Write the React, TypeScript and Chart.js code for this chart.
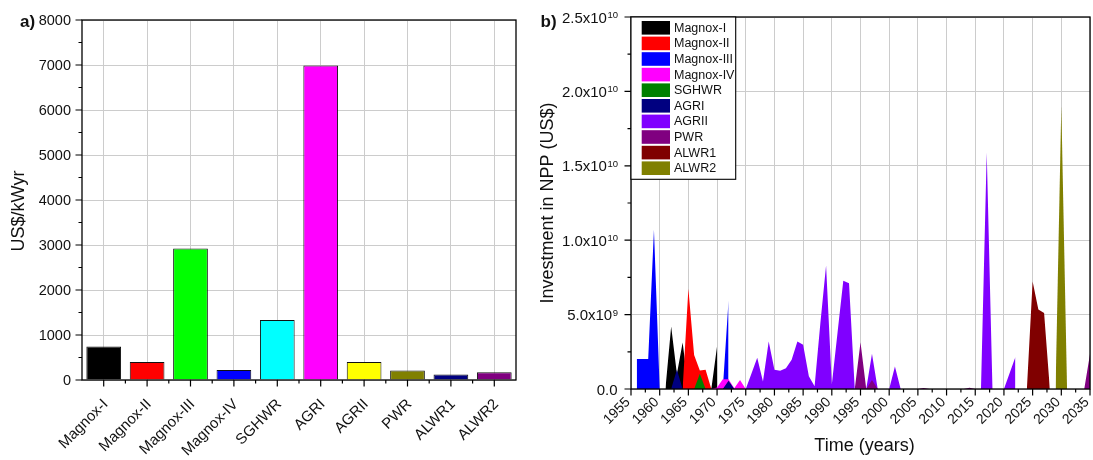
import React, { useEffect, useRef } from 'react';
import { Chart, registerables } from 'chart.js';

Chart.register(...registerables);

const FONT = '"Liberation Sans", Arial, Helvetica, sans-serif';
const GRID = '#cccccc';

// ---------------- Panel a data ----------------
const reactorTypes = ['Magnox-I', 'Magnox-II', 'Magnox-III', 'Magnox-IV', 'SGHWR', 'AGRI', 'AGRII', 'PWR', 'ALWR1', 'ALWR2'];
const unitCost = [745, 400, 2925, 222, 1333, 6990, 400, 213, 123, 175];
const barColors = ['#000000', '#ff0000', '#00ff00', '#0000ff', '#00ffff', '#ff00ff', '#ffff00', '#808000', '#000080', '#800080'];
const costTicks = [0, 1000, 2000, 3000, 4000, 5000, 6000, 7000, 8000];
const costTitle = 'US$/kWyr';

// ---------------- Panel b data (year, billions of US$) ----------------
const magnoxI = [[1961, 0], [1962, 4.2], [1963, 1.0], [1964, 3.12], [1965, 0], [1969, 0], [1970, 2.88]];
const magnoxII = [[1964, 0], [1965, 6.73], [1966, 2.28], [1967, 1.25], [1968, 1.3], [1969, 0]];
const magnoxIII = [[1956, 2.02], [1957, 2.02], [1958, 2.02], [1959, 10.7], [1960, 0], [1971, 0], [1972, 5.95]];
const magnoxIV = [[1969, 0], [1970, 0.1], [1971, 0.65], [1972, 0.65], [1973, 0.05], [1974, 0.6], [1975, 0]];
const sghwr = [[1966, 0], [1967, 1.03], [1968, 0]];
const agrI = [[1962, 0], [1963, 1.3], [1964, 0], [1971, 0], [1972, 0.55], [1973, 0]];
const agrII = [[1975, 0], [1976, 1.05], [1977, 2.1], [1978, 0.5], [1979, 3.2], [1980, 1.3], [1981, 1.23], [1982, 1.4], [1983, 1.97], [1984, 3.2], [1985, 2.98], [1986, 0.85], [1987, 0.18], [1988, 4.4], [1989, 8.3], [1990, 0.3], [1991, 3.8], [1992, 7.27], [1993, 7.1], [1994, 0], [1996, 0], [1997, 2.37], [1998, 0], [2000, 0], [2001, 1.52], [2002, 0], [2016, 0], [2017, 15.9], [2018, 0], [2020, 0], [2021, 1.07], [2022, 2.15]];
const pwr = [[1994, 0], [1995, 3.15], [1996, 0], [1997, 0.6], [1998, 0], [2005, 0], [2006, 0.07], [2007, 0], [2013, 0], [2014, 0.09], [2015, 0], [2034, 0], [2035, 2.35]];
const alwr1 = [[2024, 0], [2025, 7.22], [2026, 5.35], [2027, 5.1], [2028, 0]];
const alwr2 = [[2029, 0], [2030, 19.0], [2031, 0]];

const seriesNames = ['Magnox-I', 'Magnox-II', 'Magnox-III', 'Magnox-IV', 'SGHWR', 'AGRI', 'AGRII', 'PWR', 'ALWR1', 'ALWR2'];
const seriesColors = ['#000000', '#ff0000', '#0000ff', '#ff00ff', '#008000', '#000080', '#8000ff', '#800080', '#800000', '#808000'];
const seriesData = [magnoxI, magnoxII, magnoxIII, magnoxIV, sghwr, agrI, agrII, pwr, alwr1, alwr2];
const yearTicks = [1955, 1960, 1965, 1970, 1975, 1980, 1985, 1990, 1995, 2000, 2005, 2010, 2015, 2020, 2025, 2030, 2035];
const investTicks = [0, 5e9, 1e10, 1.5e10, 2e10, 2.5e10];
const timeTitle = 'Time (years)';
const investTitle = 'Investment in NPP (US$)';

// ---------------- Panel a ----------------
const decoA = {
  id: 'decoA',
  afterDraw(chart: any) {
    const { ctx, chartArea: ca, scales } = chart;
    const xs = scales.x, ys = scales.y;
    ctx.save();
    ctx.strokeStyle = '#000';
    ctx.lineWidth = 1.3;
    ctx.strokeRect(ca.left, ca.top, ca.right - ca.left, ca.bottom - ca.top);
    ctx.lineWidth = 1.2;
    ctx.beginPath();
    for (let k = 0; k < costTicks.length; k++) {
      const py = ys.getPixelForValue(costTicks[k]);
      ctx.moveTo(ca.left - 6.5, py); ctx.lineTo(ca.left, py);
      if (k < costTicks.length - 1) {
        const pm = ys.getPixelForValue((costTicks[k] + costTicks[k + 1]) / 2);
        ctx.moveTo(ca.left - 3.5, pm); ctx.lineTo(ca.left, pm);
      }
    }
    for (let i = 0; i < reactorTypes.length; i++) {
      const px = xs.getPixelForValue(i);
      ctx.moveTo(px, ca.bottom); ctx.lineTo(px, ca.bottom + 6.5);
      if (i < reactorTypes.length - 1) {
        const bx = (px + xs.getPixelForValue(i + 1)) / 2;
        ctx.moveTo(bx, ca.bottom); ctx.lineTo(bx, ca.bottom + 3.5);
      }
    }
    ctx.stroke();

    ctx.fillStyle = '#111';
    ctx.font = `14.5px ${FONT}`;
    ctx.textAlign = 'right';
    ctx.textBaseline = 'middle';
    costTicks.forEach((v) => ctx.fillText(String(v), ca.left - 11, ys.getPixelForValue(v) + 0.5));

    ctx.font = `15px ${FONT}`;
    reactorTypes.forEach((name, i) => {
      const px = xs.getPixelForValue(i);
      ctx.save();
      ctx.translate(px + 2, ca.bottom + 22);
      ctx.rotate(-Math.PI / 4);
      ctx.fillText(name, 0, 0);
      ctx.restore();
    });

    ctx.save();
    ctx.translate(19, 211);
    ctx.rotate(-Math.PI / 2);
    ctx.textAlign = 'center';
    ctx.font = `18px ${FONT}`;
    ctx.fillText(costTitle, 0, 0);
    ctx.restore();

    ctx.font = `bold 17px ${FONT}`;
    ctx.textAlign = 'left';
    ctx.textBaseline = 'alphabetic';
    ctx.fillText('a)', 20, 27);
    ctx.restore();
  },
};

function PanelA() {
  const ref = useRef<HTMLCanvasElement>(null);
  useEffect(() => {
    const chart = new Chart(ref.current as HTMLCanvasElement, {
      type: 'bar',
      data: {
        labels: reactorTypes,
        datasets: [
          {
            data: unitCost,
            backgroundColor: barColors,
            borderColor: '#111',
            borderWidth: 1,
            categoryPercentage: 0.8,
            barPercentage: 1,
          },
        ],
      },
      options: {
        responsive: false,
        animation: false,
        layout: { padding: { left: 0, top: 20, right: 4, bottom: 0 } },
        plugins: { legend: { display: false }, tooltip: { enabled: false } },
        scales: {
          x: {
            grid: { offset: false, color: GRID, drawTicks: false },
            border: { display: false },
            ticks: { display: false },
            afterFit: (s: any) => { s.height = 80; },
          },
          y: {
            min: 0,
            max: 8000,
            ticks: { display: false, stepSize: 1000 },
            grid: { color: GRID, drawTicks: false },
            border: { display: false },
            afterFit: (s: any) => { s.width = 82; },
          },
        },
      } as any,
      plugins: [decoA],
    });
    return () => chart.destroy();
  }, []);
  return <canvas ref={ref} width={520} height={460} style={{ position: 'absolute', left: 0, top: 0, display: 'block' }} />;
}

// ---------------- Panel b ----------------
const decoB = {
  id: 'decoB',
  afterDraw(chart: any) {
    const { ctx, chartArea: ca, scales } = chart;
    const xs = scales.x, ys = scales.y;
    ctx.save();
    ctx.strokeStyle = '#000';
    ctx.lineWidth = 1.3;
    ctx.strokeRect(ca.left, ca.top, ca.right - ca.left, ca.bottom - ca.top);
    ctx.lineWidth = 1.2;
    ctx.beginPath();
    for (let k = 0; k < investTicks.length; k++) {
      const py = ys.getPixelForValue(investTicks[k]);
      ctx.moveTo(ca.left - 6.5, py); ctx.lineTo(ca.left, py);
      if (k < investTicks.length - 1) {
        const pm = ys.getPixelForValue((investTicks[k] + investTicks[k + 1]) / 2);
        ctx.moveTo(ca.left - 3.5, pm); ctx.lineTo(ca.left, pm);
      }
    }
    for (let k = 0; k < yearTicks.length; k++) {
      const px = xs.getPixelForValue(yearTicks[k]);
      ctx.moveTo(px, ca.bottom); ctx.lineTo(px, ca.bottom + 6.5);
      if (k < yearTicks.length - 1) {
        const pm = xs.getPixelForValue((yearTicks[k] + yearTicks[k + 1]) / 2);
        ctx.moveTo(pm, ca.bottom); ctx.lineTo(pm, ca.bottom + 3.5);
      }
    }
    ctx.stroke();

    // y tick labels with superscript exponents
    ctx.fillStyle = '#111';
    const right = ca.left - 13.5;
    investTicks.forEach((v) => {
      const py = ys.getPixelForValue(v);
      ctx.textAlign = 'left';
      ctx.textBaseline = 'alphabetic';
      if (v === 0) {
        ctx.font = `15px ${FONT}`;
        const w = ctx.measureText('0.0').width;
        ctx.fillText('0.0', right - w, py + 5.5);
        return;
      }
      const e = Math.floor(Math.log10(v) + 1e-9);
      const main = (v / Math.pow(10, e)).toFixed(1) + 'x10';
      const sup = String(e);
      ctx.font = `15px ${FONT}`;
      const wm = ctx.measureText(main).width;
      ctx.font = `9.5px ${FONT}`;
      const ws = ctx.measureText(sup).width;
      const x0 = right - wm - ws;
      ctx.font = `15px ${FONT}`;
      ctx.fillText(main, x0, py + 5.5);
      ctx.font = `9.5px ${FONT}`;
      ctx.fillText(sup, x0 + wm + 0.5, py + 1);
    });

    // x tick labels
    ctx.font = `14px ${FONT}`;
    ctx.textAlign = 'right';
    ctx.textBaseline = 'middle';
    yearTicks.forEach((yr) => {
      const px = xs.getPixelForValue(yr);
      ctx.save();
      ctx.translate(px - 3, ca.bottom + 11);
      ctx.rotate(-Math.PI / 4);
      ctx.fillText(String(yr), 0, 0);
      ctx.restore();
    });

    // axis titles
    ctx.textAlign = 'center';
    ctx.textBaseline = 'middle';
    ctx.font = `18px ${FONT}`;
    ctx.fillText(timeTitle, (ca.left + ca.right) / 2 + 4, 446);
    ctx.save();
    ctx.translate(28, (ca.top + ca.bottom) / 2);
    ctx.rotate(-Math.PI / 2);
    ctx.fillText(investTitle, 0, 0);
    ctx.restore();

    ctx.font = `bold 17px ${FONT}`;
    ctx.textAlign = 'left';
    ctx.textBaseline = 'alphabetic';
    ctx.fillText('b)', 20.5, 27);

    // legend
    const lx = ca.left, ly = ca.top, lw = 104.7, lh = 162.3;
    ctx.fillStyle = '#fff';
    ctx.fillRect(lx, ly, lw, lh);
    ctx.strokeStyle = '#000';
    ctx.lineWidth = 1.1;
    ctx.strokeRect(lx, ly, lw, lh);
    ctx.font = `12.5px ${FONT}`;
    ctx.textBaseline = 'middle';
    ctx.textAlign = 'left';
    seriesNames.forEach((name, i) => {
      const cy = ly + 10.8 + i * 15.6;
      ctx.fillStyle = seriesColors[i];
      ctx.fillRect(lx + 10.7, cy - 6.8, 28.3, 13.6);
      ctx.fillStyle = '#111';
      ctx.fillText(name, lx + 43, cy + 0.5);
    });
    ctx.restore();
  },
};

function PanelB() {
  const ref = useRef<HTMLCanvasElement>(null);
  useEffect(() => {
    const n = seriesData.length;
    const datasets = seriesData.map((pts, i) => ({
      label: seriesNames[i],
      data: pts.map(([x, y]) => ({ x, y: y * 1e9 })),
      backgroundColor: seriesColors[i],
      borderColor: seriesColors[i],
      borderWidth: 0,
      pointRadius: 0,
      tension: 0,
      fill: 'origin',
      order: n - i,
    }));
    const chart = new Chart(ref.current as HTMLCanvasElement, {
      type: 'line',
      data: { datasets },
      options: {
        responsive: false,
        animation: false,
        layout: { padding: { left: 0, top: 17, right: 3, bottom: 0 } },
        plugins: { legend: { display: false }, tooltip: { enabled: false } },
        scales: {
          x: {
            type: 'linear',
            min: 1955,
            max: 2035,
            ticks: { display: false, stepSize: 5 },
            grid: { color: GRID, drawTicks: false },
            border: { display: false },
            afterFit: (s: any) => { s.height = 71; },
          },
          y: {
            min: 0,
            max: 2.5e10,
            ticks: { display: false, stepSize: 5e9 },
            grid: { color: GRID, drawTicks: false },
            border: { display: false },
            afterFit: (s: any) => { s.width = 111; },
          },
        },
      } as any,
      plugins: [decoB],
    });
    return () => chart.destroy();
  }, []);
  return <canvas ref={ref} width={573} height={460} style={{ position: 'absolute', left: 520, top: 0, display: 'block' }} />;
}

export default function App() {
  return (
    <div style={{ position: 'absolute', left: 0, top: 0, width: 1093, height: 460, background: '#fff', overflow: 'hidden' }}>
      <PanelA />
      <PanelB />
    </div>
  );
}
